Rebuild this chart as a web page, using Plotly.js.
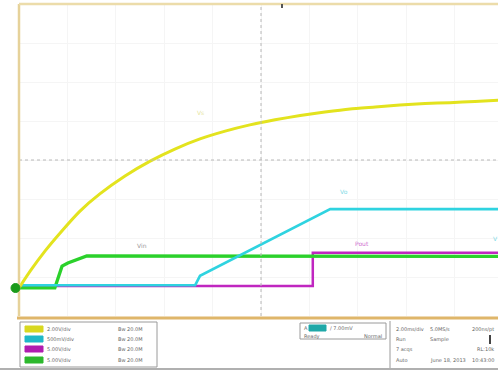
<!DOCTYPE html>
<html>
<head>
<meta charset="utf-8">
<script src="https://cdn.plot.ly/plotly-3.0.1.min.js"></script>
<style>html,body{margin:0;padding:0;background:#fff;}#chart{width:498px;height:370px;}</style>
</head>
<body>
<div id="chart"></div>
<script>
// time in divisions (0 = screen centre), amplitude in divisions
const yellowT = [-5.0, -4.77, -4.46, -4.15, -3.74, -3.33, -2.81, -2.29, -1.78, -1.26, -0.74, -0.23, 0.29, 0.81, 1.32, 1.84, 2.36, 2.87, 3.39, 3.90, 4.42, 4.90];
const yellowV = [-3.28, -2.85, -2.33, -1.87, -1.31, -0.87, -0.41, -0.03, 0.28, 0.54, 0.74, 0.90, 1.03, 1.14, 1.23, 1.31, 1.36, 1.41, 1.45, 1.47, 1.50, 1.53];

const greenT = [-5.0, -4.26, -4.11, -3.99, -3.60, 0.0, 4.90];
const greenV = [-3.28, -3.28, -2.72, -2.64, -2.46, -2.47, -2.47];

const cyanT = [-5.0, -1.36, -1.26, 1.43, 4.90];
const cyanV = [-3.21, -3.21, -2.97, -1.26, -1.26];

const magentaT = [-5.0, -1.36, 1.07, 1.07, 4.90];
const magentaV = [-3.23, -3.23, -3.23, -2.38, -2.38];

const chScales = ["2.00V/div", "500mV/div", "5.00V/div", "5.00V/div"];
const chBw = ["Bw 20.0M", "Bw 20.0M", "Bw 20.0M", "Bw 20.0M"];
const chColors = ["#d8d820", "#1fb8c8", "#b01cb0", "#2cb82c"];
const traceLabels = ["Vs", "Vo", "Pout", "Vin", "V"];

const rightRows = [
  ["2.00ms/div", "5.0MS/s", "200ns/pt"],
  ["Run", "Sample", ""],
  ["7 acqs", "", "RL:10k"],
  ["Auto", "June 18, 2013", "10:43:00"]
];

// pixel -> paper helpers for the status panel
const L = 19, T = 4, B = 316, W = 479, H = 312;
const px = x => (x - L) / W;
const py = y => (B - y) / H;

const traces = [
  {x: magentaT, y: magentaV, mode: 'lines', line: {color: '#c026c0', width: 2.5}, hoverinfo: 'skip'},
  {x: greenT, y: greenV, mode: 'lines', line: {color: '#2bd12b', width: 3.4}, hoverinfo: 'skip'},
  {x: cyanT, y: cyanV, mode: 'lines', line: {color: '#2fd3e0', width: 2.6}, hoverinfo: 'skip'},
  {x: yellowT, y: yellowV, mode: 'lines', line: {color: '#e3e31e', width: 3, shape: 'spline', smoothing: 0.5}, hoverinfo: 'skip'}
];

const shapes = [
  // centre graticule lines
  {type: 'line', xref: 'x', yref: 'paper', x0: 0, x1: 0, y0: 0, y1: 1, line: {color: '#b8b8b8', width: 1, dash: 'dot'}},
  {type: 'line', xref: 'paper', yref: 'y', x0: 0, x1: 1, y0: 0, y1: 0, line: {color: '#b8b8b8', width: 1, dash: 'dot'}},
  // frame
  {type: 'line', xref: 'paper', yref: 'paper', x0: 0, x1: 0, y0: 0, y1: 1, line: {color: '#e6d29a', width: 2.5}},
  {type: 'line', xref: 'paper', yref: 'paper', x0: 0, x1: 1, y0: 1, y1: 1, line: {color: '#ecdcaa', width: 2.5}},
  {type: 'line', xref: 'paper', yref: 'paper', x0: px(17), x1: 1, y0: py(318), y1: py(318), line: {color: '#dfb66a', width: 3}},
  // ground marker
  {type: 'circle', xref: 'paper', yref: 'paper', x0: px(11), x1: px(20), y0: py(283.5), y1: py(292.5), fillcolor: '#1a9a1a', line: {color: '#1a9a1a', width: 1}},
  // status panel boxes
  {type: 'rect', xref: 'paper', yref: 'paper', x0: px(20), x1: px(157), y0: py(322), y1: py(367), line: {color: '#9a9a9a', width: 1}},
  {type: 'rect', xref: 'paper', yref: 'paper', x0: px(300), x1: px(386), y0: py(323), y1: py(339), line: {color: '#9a9a9a', width: 1}},
  {type: 'line', xref: 'paper', yref: 'paper', x0: px(390), x1: px(390), y0: py(321), y1: py(368), line: {color: '#9a9a9a', width: 1}},
  {type: 'line', xref: 'paper', yref: 'paper', x0: px(0), x1: px(498), y0: py(369), y1: py(369), line: {color: '#b0b0b0', width: 2}},
  // trigger position marker
  {type: 'line', xref: 'paper', yref: 'paper', x0: px(282), x1: px(282), y0: py(4), y1: py(8), line: {color: '#555', width: 2}}
];

const annotations = [];
const rowY = [329, 339, 349, 360];
const f5 = {size: 5, color: '#666', family: 'DejaVu Sans'};
for (let i = 0; i < 4; i++) {
  shapes.push({type: 'rect', xref: 'paper', yref: 'paper', x0: px(25), x1: px(43), y0: py(rowY[i] + 3), y1: py(rowY[i] - 3),
    fillcolor: chColors[i], line: {color: chColors[i], width: 1}});
  annotations.push({xref: 'paper', yref: 'paper', x: px(45), y: py(rowY[i]), text: chScales[i], showarrow: false,
    xanchor: 'left', yanchor: 'middle', font: f5});
  annotations.push({xref: 'paper', yref: 'paper', x: px(116), y: py(rowY[i]), text: chBw[i], showarrow: false,
    xanchor: 'left', yanchor: 'middle', font: f5});
}
// trigger box
shapes.push({type: 'rect', xref: 'paper', yref: 'paper', x0: px(309), x1: px(326), y0: py(331), y1: py(325), fillcolor: '#1fa8a8', line: {color: '#1fa8a8', width: 1}});
annotations.push({xref: 'paper', yref: 'paper', x: px(302), y: py(328), text: 'A', showarrow: false, xanchor: 'left', yanchor: 'middle', font: f5});
annotations.push({xref: 'paper', yref: 'paper', x: px(328), y: py(328), text: '/ 7.00mV', showarrow: false, xanchor: 'left', yanchor: 'middle', font: f5});
annotations.push({xref: 'paper', yref: 'paper', x: px(302), y: py(336), text: 'Ready', showarrow: false, xanchor: 'left', yanchor: 'middle', font: f5});
annotations.push({xref: 'paper', yref: 'paper', x: px(384), y: py(336), text: 'Normal', showarrow: false, xanchor: 'right', yanchor: 'middle', font: f5});
// right status box
const colX = [394, 428, 496];
const colAnchor = ['left', 'left', 'right'];
for (let r = 0; r < rightRows.length; r++) {
  for (let c = 0; c < 3; c++) {
    if (!rightRows[r][c]) continue;
    annotations.push({xref: 'paper', yref: 'paper', x: px(colX[c]), y: py(rowY[r]), text: rightRows[r][c], showarrow: false,
      xanchor: colAnchor[c], yanchor: 'middle', font: f5});
  }
}
shapes.push({type: 'rect', xref: 'paper', yref: 'paper', x0: px(489), x1: px(491), y0: py(344), y1: py(335), fillcolor: '#444', line: {width: 0}});
// trace labels
const labelPos = [[-1.26, 1.23, '#e6e6a0'], [1.71, -0.82, '#7fdbe6'], [2.09, -2.13, '#d070d0'], [-2.45, -2.2, '#9a9a9a'], [4.85, -2.0, '#7fdbe6']];
for (let i = 0; i < labelPos.length; i++) {
  annotations.push({xref: 'x', yref: 'y', x: labelPos[i][0], y: labelPos[i][1], text: traceLabels[i], showarrow: false,
    font: {size: 6, color: labelPos[i][2], family: 'DejaVu Sans'}});
}

const layout = {
  width: 498, height: 370,
  margin: {l: L, r: 0, t: T, b: 370 - B},
  paper_bgcolor: '#ffffff', plot_bgcolor: '#ffffff',
  showlegend: false,
  xaxis: {range: [-5, -5 + W / 48.4], showgrid: true, gridcolor: '#f5f5f5', dtick: 1, tick0: 0,
    zeroline: false, showticklabels: false, ticks: '', showline: false, fixedrange: true},
  yaxis: {range: [-4, 4], showgrid: true, gridcolor: '#f5f5f5', dtick: 1, tick0: 0,
    zeroline: false, showticklabels: false, ticks: '', showline: false, fixedrange: true},
  shapes: shapes,
  annotations: annotations
};

Plotly.newPlot('chart', traces, layout, {displayModeBar: false, staticPlot: true});
</script>
</body>
</html>
